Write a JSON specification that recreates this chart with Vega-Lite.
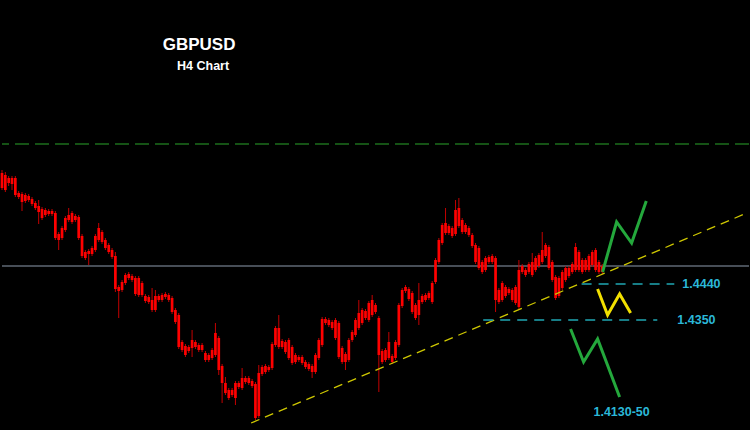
{
"$schema": "https://vega.github.io/schema/vega-lite/v6.json",
"width": 750, "height": 430,
"autosize": {"type": "fit", "contains": "padding"},
"padding": 0,
"background": "#000000",
"config": {"view": {"stroke": null}, "scale": {"continuousPadding": 0}},
"datasets": {
"candles": [
{"t":0,"o":1.47175,"h":1.4725,"l":1.4675,"c":1.468},
{"t":1,"o":1.4675,"h":1.472,"l":1.467,"c":1.47125},
{"t":2,"o":1.4705,"h":1.471,"l":1.4685,"c":1.46925},
{"t":3,"o":1.469,"h":1.471,"l":1.4675,"c":1.4705},
{"t":4,"o":1.4705,"h":1.471,"l":1.46575,"c":1.46625},
{"t":5,"o":1.46675,"h":1.46725,"l":1.46525,"c":1.46575},
{"t":6,"o":1.4665,"h":1.467,"l":1.46225,"c":1.4645},
{"t":7,"o":1.46475,"h":1.46675,"l":1.46425,"c":1.46625},
{"t":8,"o":1.466,"h":1.4665,"l":1.4645,"c":1.465},
{"t":9,"o":1.46525,"h":1.46575,"l":1.4635,"c":1.464},
{"t":10,"o":1.46425,"h":1.46475,"l":1.4625,"c":1.463},
{"t":11,"o":1.4635,"h":1.465,"l":1.459,"c":1.462},
{"t":12,"o":1.46275,"h":1.46325,"l":1.46,"c":1.4605},
{"t":13,"o":1.46125,"h":1.463,"l":1.46075,"c":1.4625},
{"t":14,"o":1.46225,"h":1.46275,"l":1.461,"c":1.4615},
{"t":15,"o":1.4615,"h":1.46275,"l":1.461,"c":1.46225},
{"t":16,"o":1.46175,"h":1.46225,"l":1.455,"c":1.4555},
{"t":17,"o":1.4565,"h":1.457,"l":1.4525,"c":1.455},
{"t":18,"o":1.4555,"h":1.4585,"l":1.455,"c":1.458},
{"t":19,"o":1.4575,"h":1.461,"l":1.457,"c":1.4605},
{"t":20,"o":1.46,"h":1.463,"l":1.4595,"c":1.46125},
{"t":21,"o":1.46175,"h":1.46225,"l":1.459,"c":1.4595},
{"t":22,"o":1.46,"h":1.4615,"l":1.4595,"c":1.461},
{"t":23,"o":1.46075,"h":1.46125,"l":1.455,"c":1.4555},
{"t":24,"o":1.456,"h":1.4565,"l":1.4505,"c":1.451},
{"t":25,"o":1.452,"h":1.4525,"l":1.45,"c":1.4505},
{"t":26,"o":1.4515,"h":1.45275,"l":1.44875,"c":1.45225},
{"t":27,"o":1.4515,"h":1.4535,"l":1.451,"c":1.453},
{"t":28,"o":1.4525,"h":1.4565,"l":1.452,"c":1.456},
{"t":29,"o":1.455,"h":1.45925,"l":1.4545,"c":1.458},
{"t":30,"o":1.457,"h":1.4575,"l":1.454,"c":1.4545},
{"t":31,"o":1.455,"h":1.4555,"l":1.4525,"c":1.453},
{"t":32,"o":1.45375,"h":1.45425,"l":1.4515,"c":1.452},
{"t":33,"o":1.4525,"h":1.453,"l":1.45025,"c":1.45075},
{"t":34,"o":1.451,"h":1.452,"l":1.442,"c":1.44275},
{"t":35,"o":1.44325,"h":1.44375,"l":1.4355,"c":1.44225},
{"t":36,"o":1.4425,"h":1.445,"l":1.442,"c":1.4445},
{"t":37,"o":1.44425,"h":1.44675,"l":1.44375,"c":1.44625},
{"t":38,"o":1.4455,"h":1.447,"l":1.445,"c":1.4465},
{"t":39,"o":1.446,"h":1.4465,"l":1.4445,"c":1.445},
{"t":40,"o":1.4455,"h":1.446,"l":1.441,"c":1.4415},
{"t":41,"o":1.44125,"h":1.446,"l":1.44075,"c":1.4455},
{"t":42,"o":1.44425,"h":1.44475,"l":1.44075,"c":1.44125},
{"t":43,"o":1.441,"h":1.4415,"l":1.43925,"c":1.43975},
{"t":44,"o":1.44075,"h":1.44125,"l":1.439,"c":1.4395},
{"t":45,"o":1.44,"h":1.443,"l":1.437,"c":1.4375},
{"t":46,"o":1.4375,"h":1.4425,"l":1.437,"c":1.441},
{"t":47,"o":1.441,"h":1.4415,"l":1.4395,"c":1.44},
{"t":48,"o":1.44,"h":1.44175,"l":1.4395,"c":1.44125},
{"t":49,"o":1.44075,"h":1.442,"l":1.44025,"c":1.4415},
{"t":50,"o":1.44125,"h":1.44175,"l":1.4395,"c":1.44},
{"t":51,"o":1.4405,"h":1.441,"l":1.4365,"c":1.437},
{"t":52,"o":1.4375,"h":1.438,"l":1.434,"c":1.4345},
{"t":53,"o":1.43625,"h":1.43675,"l":1.42775,"c":1.42825},
{"t":54,"o":1.4295,"h":1.43,"l":1.427,"c":1.4275},
{"t":55,"o":1.4285,"h":1.429,"l":1.42575,"c":1.42625},
{"t":56,"o":1.42725,"h":1.42875,"l":1.42675,"c":1.42825},
{"t":57,"o":1.428,"h":1.4325,"l":1.42575,"c":1.43},
{"t":58,"o":1.4295,"h":1.43,"l":1.42775,"c":1.42825},
{"t":59,"o":1.42875,"h":1.42925,"l":1.427,"c":1.4275},
{"t":60,"o":1.4275,"h":1.42925,"l":1.427,"c":1.42875},
{"t":61,"o":1.42675,"h":1.42725,"l":1.4245,"c":1.425},
{"t":62,"o":1.42625,"h":1.42675,"l":1.4245,"c":1.425},
{"t":63,"o":1.4255,"h":1.428,"l":1.425,"c":1.4275},
{"t":64,"o":1.42625,"h":1.43425,"l":1.42575,"c":1.43175},
{"t":65,"o":1.4305,"h":1.431,"l":1.42125,"c":1.4225},
{"t":66,"o":1.4235,"h":1.424,"l":1.41425,"c":1.41925},
{"t":67,"o":1.41925,"h":1.42075,"l":1.41625,"c":1.41675},
{"t":68,"o":1.4175,"h":1.418,"l":1.415,"c":1.4155},
{"t":69,"o":1.41625,"h":1.418,"l":1.41575,"c":1.4175},
{"t":70,"o":1.4155,"h":1.41975,"l":1.41375,"c":1.41925},
{"t":71,"o":1.41925,"h":1.41975,"l":1.41775,"c":1.41825},
{"t":72,"o":1.418,"h":1.423,"l":1.4175,"c":1.4205},
{"t":73,"o":1.4205,"h":1.421,"l":1.419,"c":1.4195},
{"t":74,"o":1.41925,"h":1.421,"l":1.41875,"c":1.4205},
{"t":75,"o":1.41975,"h":1.42025,"l":1.418,"c":1.4185},
{"t":76,"o":1.419,"h":1.4195,"l":1.41,"c":1.4105},
{"t":77,"o":1.411,"h":1.42375,"l":1.4105,"c":1.42175},
{"t":78,"o":1.4215,"h":1.42375,"l":1.421,"c":1.42325},
{"t":79,"o":1.4235,"h":1.424,"l":1.4215,"c":1.422},
{"t":80,"o":1.4225,"h":1.42375,"l":1.422,"c":1.42325},
{"t":81,"o":1.423,"h":1.4295,"l":1.4225,"c":1.429},
{"t":82,"o":1.42875,"h":1.4335,"l":1.42825,"c":1.433},
{"t":83,"o":1.433,"h":1.43625,"l":1.42775,"c":1.42825},
{"t":84,"o":1.42825,"h":1.43025,"l":1.42775,"c":1.42975},
{"t":85,"o":1.4295,"h":1.43,"l":1.4265,"c":1.427},
{"t":86,"o":1.4255,"h":1.4305,"l":1.425,"c":1.43},
{"t":87,"o":1.42825,"h":1.42875,"l":1.42375,"c":1.42425},
{"t":88,"o":1.42625,"h":1.42675,"l":1.424,"c":1.4245},
{"t":89,"o":1.425,"h":1.42625,"l":1.4245,"c":1.42575},
{"t":90,"o":1.42575,"h":1.42625,"l":1.42375,"c":1.42425},
{"t":91,"o":1.4245,"h":1.425,"l":1.42275,"c":1.42325},
{"t":92,"o":1.424,"h":1.4245,"l":1.42225,"c":1.42275},
{"t":93,"o":1.4235,"h":1.424,"l":1.4205,"c":1.422},
{"t":94,"o":1.422,"h":1.42675,"l":1.4215,"c":1.42625},
{"t":95,"o":1.4255,"h":1.4305,"l":1.425,"c":1.43},
{"t":96,"o":1.42875,"h":1.43575,"l":1.42825,"c":1.43525},
{"t":97,"o":1.43525,"h":1.43575,"l":1.43375,"c":1.43425},
{"t":98,"o":1.435,"h":1.4355,"l":1.43325,"c":1.43375},
{"t":99,"o":1.4345,"h":1.435,"l":1.4325,"c":1.433},
{"t":100,"o":1.4305,"h":1.4355,"l":1.43,"c":1.435},
{"t":101,"o":1.43425,"h":1.43475,"l":1.42525,"c":1.42575},
{"t":102,"o":1.428,"h":1.4285,"l":1.424,"c":1.4245},
{"t":103,"o":1.4245,"h":1.427,"l":1.4225,"c":1.4265},
{"t":104,"o":1.425,"h":1.4305,"l":1.4245,"c":1.43},
{"t":105,"o":1.43,"h":1.4325,"l":1.4295,"c":1.432},
{"t":106,"o":1.43125,"h":1.4355,"l":1.43075,"c":1.435},
{"t":107,"o":1.433,"h":1.44,"l":1.4325,"c":1.43675},
{"t":108,"o":1.4375,"h":1.438,"l":1.43375,"c":1.43425},
{"t":109,"o":1.4355,"h":1.43775,"l":1.435,"c":1.43725},
{"t":110,"o":1.435,"h":1.43975,"l":1.4345,"c":1.43925},
{"t":111,"o":1.43625,"h":1.44125,"l":1.43575,"c":1.44},
{"t":112,"o":1.43875,"h":1.43925,"l":1.4365,"c":1.437},
{"t":113,"o":1.4355,"h":1.436,"l":1.417,"c":1.42625},
{"t":114,"o":1.42725,"h":1.42775,"l":1.424,"c":1.4245},
{"t":115,"o":1.425,"h":1.428,"l":1.4245,"c":1.4275},
{"t":116,"o":1.4255,"h":1.432,"l":1.425,"c":1.4295},
{"t":117,"o":1.426,"h":1.4265,"l":1.424,"c":1.4245},
{"t":118,"o":1.4255,"h":1.43,"l":1.425,"c":1.4295},
{"t":119,"o":1.42875,"h":1.43925,"l":1.42825,"c":1.43875},
{"t":120,"o":1.4385,"h":1.443,"l":1.438,"c":1.4425},
{"t":121,"o":1.44325,"h":1.44375,"l":1.44175,"c":1.44225},
{"t":122,"o":1.44275,"h":1.44325,"l":1.43975,"c":1.44025},
{"t":123,"o":1.44175,"h":1.44225,"l":1.4365,"c":1.437},
{"t":124,"o":1.43875,"h":1.43925,"l":1.435,"c":1.4355},
{"t":125,"o":1.43625,"h":1.44425,"l":1.43375,"c":1.44},
{"t":126,"o":1.4395,"h":1.4415,"l":1.439,"c":1.441},
{"t":127,"o":1.44,"h":1.44175,"l":1.4395,"c":1.44125},
{"t":128,"o":1.4405,"h":1.44225,"l":1.44,"c":1.44175},
{"t":129,"o":1.4395,"h":1.44475,"l":1.439,"c":1.44425},
{"t":130,"o":1.4445,"h":1.4505,"l":1.444,"c":1.45},
{"t":131,"o":1.4495,"h":1.4555,"l":1.449,"c":1.455},
{"t":132,"o":1.45425,"h":1.45925,"l":1.45375,"c":1.45875},
{"t":133,"o":1.45675,"h":1.463,"l":1.45625,"c":1.45925},
{"t":134,"o":1.4585,"h":1.459,"l":1.45625,"c":1.45675},
{"t":135,"o":1.458,"h":1.4585,"l":1.4555,"c":1.456},
{"t":136,"o":1.4565,"h":1.465,"l":1.456,"c":1.4625},
{"t":137,"o":1.463,"h":1.4655,"l":1.458,"c":1.4585},
{"t":138,"o":1.46,"h":1.4605,"l":1.4565,"c":1.457},
{"t":139,"o":1.457,"h":1.45925,"l":1.4565,"c":1.45875},
{"t":140,"o":1.458,"h":1.4585,"l":1.45575,"c":1.45625},
{"t":141,"o":1.45625,"h":1.45675,"l":1.453,"c":1.4535},
{"t":142,"o":1.45375,"h":1.45425,"l":1.449,"c":1.4495},
{"t":143,"o":1.453,"h":1.4535,"l":1.4475,"c":1.448},
{"t":144,"o":1.4495,"h":1.45,"l":1.4465,"c":1.447},
{"t":145,"o":1.4475,"h":1.451,"l":1.447,"c":1.4505},
{"t":146,"o":1.4495,"h":1.45125,"l":1.449,"c":1.45075},
{"t":147,"o":1.451,"h":1.4515,"l":1.449,"c":1.4495},
{"t":148,"o":1.4505,"h":1.451,"l":1.437,"c":1.44},
{"t":149,"o":1.4425,"h":1.443,"l":1.439,"c":1.4395},
{"t":150,"o":1.44,"h":1.44475,"l":1.4395,"c":1.44425},
{"t":151,"o":1.44325,"h":1.44375,"l":1.4405,"c":1.441},
{"t":152,"o":1.44175,"h":1.44325,"l":1.44125,"c":1.44275},
{"t":153,"o":1.4425,"h":1.443,"l":1.4395,"c":1.44},
{"t":154,"o":1.43925,"h":1.44375,"l":1.43875,"c":1.44325},
{"t":155,"o":1.43825,"h":1.45,"l":1.43775,"c":1.4475},
{"t":156,"o":1.4485,"h":1.449,"l":1.4465,"c":1.447},
{"t":157,"o":1.4475,"h":1.448,"l":1.44575,"c":1.44625},
{"t":158,"o":1.447,"h":1.4495,"l":1.4465,"c":1.449},
{"t":159,"o":1.4495,"h":1.45175,"l":1.44575,"c":1.44625},
{"t":160,"o":1.4475,"h":1.451,"l":1.447,"c":1.4505},
{"t":161,"o":1.4485,"h":1.45175,"l":1.448,"c":1.45125},
{"t":162,"o":1.4495,"h":1.457,"l":1.449,"c":1.4525},
{"t":163,"o":1.451,"h":1.45425,"l":1.4505,"c":1.45375},
{"t":164,"o":1.45325,"h":1.45375,"l":1.4475,"c":1.448},
{"t":165,"o":1.4495,"h":1.45,"l":1.4445,"c":1.445},
{"t":166,"o":1.44575,"h":1.44625,"l":1.44,"c":1.4405},
{"t":167,"o":1.441,"h":1.446,"l":1.4405,"c":1.4455},
{"t":168,"o":1.443,"h":1.4475,"l":1.4425,"c":1.447},
{"t":169,"o":1.445,"h":1.4485,"l":1.4445,"c":1.448},
{"t":170,"o":1.448,"h":1.4485,"l":1.4455,"c":1.446},
{"t":171,"o":1.447,"h":1.4495,"l":1.4465,"c":1.449},
{"t":172,"o":1.4475,"h":1.45425,"l":1.447,"c":1.45325},
{"t":173,"o":1.452,"h":1.4525,"l":1.447,"c":1.4475},
{"t":174,"o":1.45,"h":1.4505,"l":1.4465,"c":1.447},
{"t":175,"o":1.4475,"h":1.4505,"l":1.447,"c":1.45},
{"t":176,"o":1.4475,"h":1.4515,"l":1.447,"c":1.451},
{"t":177,"o":1.44875,"h":1.4525,"l":1.44825,"c":1.452},
{"t":178,"o":1.4525,"h":1.453,"l":1.447,"c":1.4475},
{"t":179,"o":1.447,"h":1.45,"l":1.4465,"c":1.4495},
{"t":180,"o":1.4485,"h":1.449,"l":1.4465,"c":1.447}
],
"zigzags": [
{"g":"up","t":180.1,"p":1.447},
{"g":"up","t":184.3,"p":1.4595},
{"g":"up","t":188.8,"p":1.45425},
{"g":"up","t":193.2,"p":1.46475},
{"g":"down","t":170.5,"p":1.43275},
{"g":"down","t":174.4,"p":1.4245},
{"g":"down","t":178.6,"p":1.43025},
{"g":"down","t":185.2,"p":1.41575}
],
"mid": [
{"t":178.6,"p":1.44275},
{"t":181.6,"p":1.43625},
{"t":185.2,"p":1.4415},
{"t":188.5,"p":1.43675}
],
"trend": [
{"t":74.7,"p":1.40925},
{"t":223.5,"p":1.4618}
],
"levels": [
{"t":173.8,"t2":201.6,"p":1.444},
{"t":144.3,"t2":196.5,"p":1.435}
]
},
"layer": [
{
"data": {"values": [{"p": 1.479}]},
"mark": {"type": "rule", "color": "#1d6e1d", "strokeWidth": 1.5, "strokeDash": [14, 6]},
"encoding": {"y": {"field": "p", "type": "quantitative", "scale": {"domain": [1.4075, 1.515], "nice": false, "zero": false}, "axis": null}}
},
{
"data": {"values": [{"p": 1.4485}]},
"mark": {"type": "rule", "color": "#5f6975", "strokeWidth": 1.6},
"encoding": {"y": {"field": "p", "type": "quantitative", "scale": {"domain": [1.4075, 1.515], "nice": false, "zero": false}, "axis": null}}
},
{
"data": {"name": "candles"},
"mark": {"type": "rule", "color": "#c40000", "strokeWidth": 1},
"encoding": {
"x": {"field": "t", "type": "quantitative", "scale": {"domain": [0, 224], "nice": false, "zero": false, "padding": 0}, "axis": null},
"y": {"field": "l", "type": "quantitative", "scale": {"domain": [1.4075, 1.515], "nice": false, "zero": false}, "axis": null},
"y2": {"field": "h"}
}
},
{
"data": {"name": "candles"},
"mark": {"type": "bar", "color": "#ff0000", "width": 2.7},
"encoding": {
"x": {"field": "t", "type": "quantitative", "scale": {"domain": [0, 224], "nice": false, "zero": false, "padding": 0}, "axis": null},
"y": {"field": "o", "type": "quantitative", "scale": {"domain": [1.4075, 1.515], "nice": false, "zero": false}, "axis": null},
"y2": {"field": "c"}
}
},
{
"data": {"name": "trend"},
"mark": {"type": "line", "color": "#cfc800", "strokeWidth": 1.3, "strokeDash": [9, 6]},
"encoding": {
"x": {"field": "t", "type": "quantitative", "scale": {"domain": [0, 224], "nice": false, "zero": false, "padding": 0}, "axis": null},
"y": {"field": "p", "type": "quantitative", "scale": {"domain": [1.4075, 1.515], "nice": false, "zero": false}, "axis": null}
}
},
{
"data": {"name": "levels"},
"mark": {"type": "rule", "color": "#1fa6b3", "strokeWidth": 1.5, "strokeDash": [10, 7]},
"encoding": {
"x": {"field": "t", "type": "quantitative", "scale": {"domain": [0, 224], "nice": false, "zero": false, "padding": 0}, "axis": null},
"x2": {"field": "t2"},
"y": {"field": "p", "type": "quantitative", "scale": {"domain": [1.4075, 1.515], "nice": false, "zero": false}, "axis": null}
}
},
{
"data": {"name": "zigzags"},
"mark": {"type": "line", "color": "#24a83c", "strokeWidth": 3, "strokeJoin": "miter"},
"encoding": {
"x": {"field": "t", "type": "quantitative", "scale": {"domain": [0, 224], "nice": false, "zero": false, "padding": 0}, "axis": null},
"y": {"field": "p", "type": "quantitative", "scale": {"domain": [1.4075, 1.515], "nice": false, "zero": false}, "axis": null},
"detail": {"field": "g"}
}
},
{
"data": {"name": "mid"},
"mark": {"type": "line", "color": "#f2e000", "strokeWidth": 3, "strokeJoin": "miter"},
"encoding": {
"x": {"field": "t", "type": "quantitative", "scale": {"domain": [0, 224], "nice": false, "zero": false, "padding": 0}, "axis": null},
"y": {"field": "p", "type": "quantitative", "scale": {"domain": [1.4075, 1.515], "nice": false, "zero": false}, "axis": null}
}
},
{
"data": {"values": [
{"t": 204.0, "p": 1.444, "label": "1.4440"},
{"t": 202.5, "p": 1.435, "label": "1.4350"}
]},
"mark": {"type": "text", "color": "#2bb8d8", "font": "Liberation Sans", "fontWeight": "bold", "fontSize": 12.5, "align": "left", "baseline": "middle"},
"encoding": {
"x": {"field": "t", "type": "quantitative", "scale": {"domain": [0, 224], "nice": false, "zero": false, "padding": 0}, "axis": null},
"y": {"field": "p", "type": "quantitative", "scale": {"domain": [1.4075, 1.515], "nice": false, "zero": false}, "axis": null},
"text": {"field": "label"}
}
},
{
"data": {"values": [{"t": 185.8, "p": 1.412, "label": "1.4130-50"}]},
"mark": {"type": "text", "color": "#2bb8d8", "font": "Liberation Sans", "fontWeight": "bold", "fontSize": 12.5, "align": "center", "baseline": "middle"},
"encoding": {
"x": {"field": "t", "type": "quantitative", "scale": {"domain": [0, 224], "nice": false, "zero": false, "padding": 0}, "axis": null},
"y": {"field": "p", "type": "quantitative", "scale": {"domain": [1.4075, 1.515], "nice": false, "zero": false}, "axis": null},
"text": {"field": "label"}
}
},
{
"data": {"values": [{"t": 59.1, "p": 1.5025, "label": "GBPUSD"}]},
"mark": {"type": "text", "color": "#ffffff", "font": "Liberation Sans", "fontWeight": "bold", "fontSize": 17, "align": "center", "baseline": "alphabetic"},
"encoding": {
"x": {"field": "t", "type": "quantitative", "scale": {"domain": [0, 224], "nice": false, "zero": false, "padding": 0}, "axis": null},
"y": {"field": "p", "type": "quantitative", "scale": {"domain": [1.4075, 1.515], "nice": false, "zero": false}, "axis": null},
"text": {"field": "label"}
}
},
{
"data": {"values": [{"t": 60.3, "p": 1.4975, "label": "H4 Chart"}]},
"mark": {"type": "text", "color": "#ffffff", "font": "Liberation Sans", "fontWeight": "bold", "fontSize": 12.5, "align": "center", "baseline": "alphabetic"},
"encoding": {
"x": {"field": "t", "type": "quantitative", "scale": {"domain": [0, 224], "nice": false, "zero": false, "padding": 0}, "axis": null},
"y": {"field": "p", "type": "quantitative", "scale": {"domain": [1.4075, 1.515], "nice": false, "zero": false}, "axis": null},
"text": {"field": "label"}
}
}
]
}
